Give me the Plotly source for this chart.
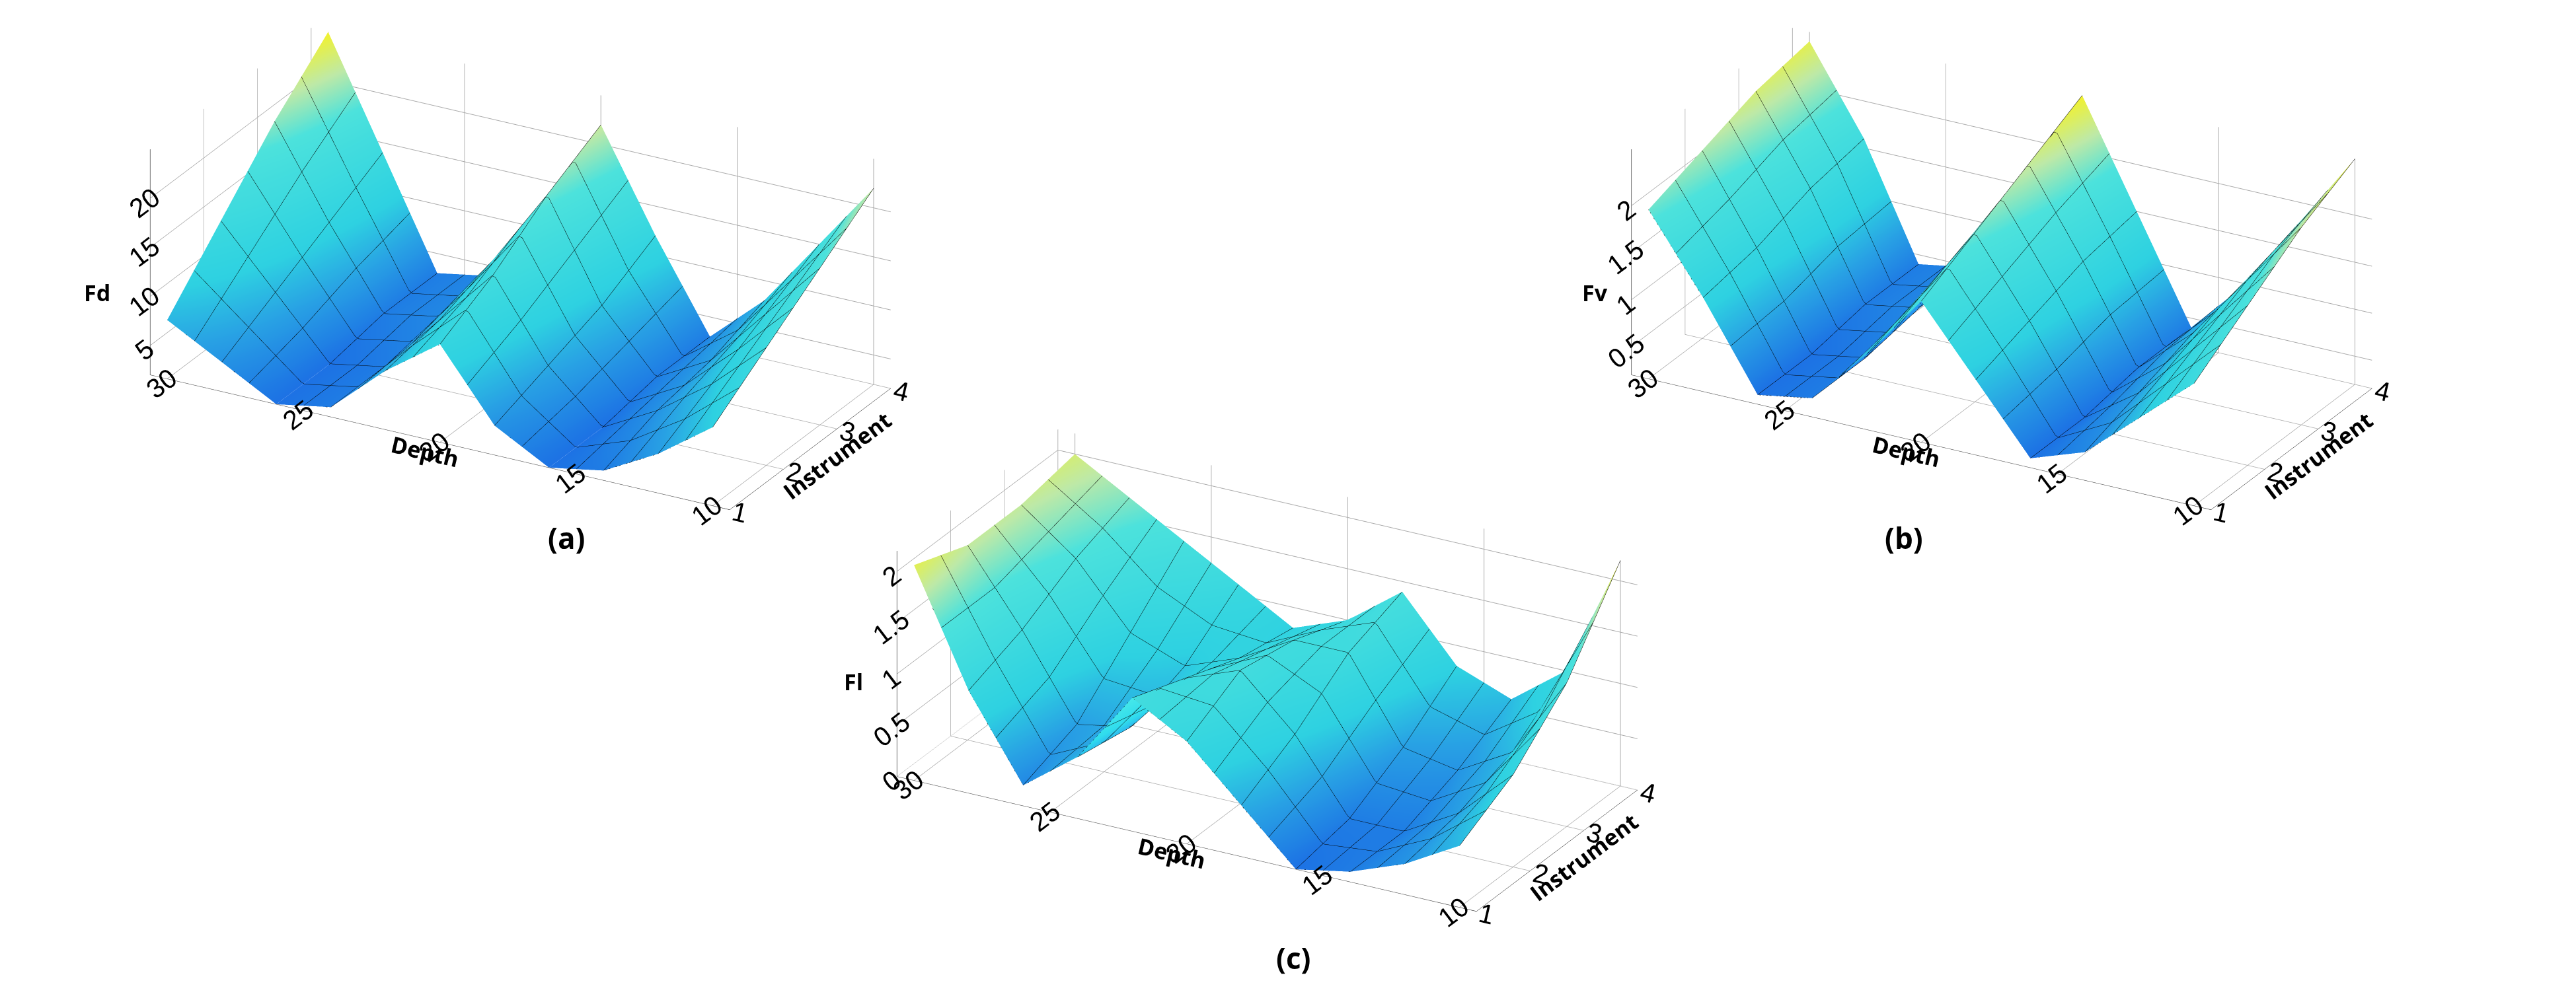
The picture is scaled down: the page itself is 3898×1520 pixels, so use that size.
import plotly.graph_objects as go

depth = [10, 12, 14, 16, 18, 20, 22, 24, 26, 28, 30]
instrument = [1, 2, 3, 4]

fd = [
    [10, 6, 3, 2, 5, 12, 8, 3, 2, 5, 8],
    [14, 9, 5, 2, 7, 15, 9, 3, 2, 8, 14],
    [18, 12, 6, 3, 9, 19, 11, 4, 3, 11, 20],
    [22, 15, 8, 3, 12, 22, 12, 4, 3, 14, 25],
]
fv = [
    [1.5, 1.0, 0.5, 0.3, 1.0, 1.7, 1.0, 0.4, 0.3, 1.2, 2.0],
    [1.9, 1.3, 0.7, 0.3, 1.2, 2.0, 1.2, 0.4, 0.3, 1.3, 2.2],
    [2.3, 1.6, 0.9, 0.4, 1.4, 2.3, 1.4, 0.5, 0.4, 1.5, 2.4],
    [2.6, 1.8, 1.0, 0.4, 1.5, 2.6, 1.5, 0.5, 0.4, 1.6, 2.5],
]
fl = [
    [0.6, 0.3, 0.1, 0.0, 0.5, 1.0, 1.3, 0.6, 0.2, 1.0, 2.1],
    [0.9, 0.4, 0.1, 0.1, 0.8, 1.3, 1.1, 0.5, 0.4, 1.2, 1.9],
    [1.4, 0.6, 0.3, 0.4, 1.2, 1.2, 0.9, 0.7, 0.9, 1.5, 1.9],
    [2.2, 1.0, 0.6, 0.8, 1.4, 1.0, 0.8, 1.1, 1.4, 1.7, 2.0],
]

cs = [[0, "#1e78f0"], [0.18, "#2aa8f0"], [0.35, "#30dced"], [0.7, "#50eee8"], [0.85, "#c8f5b0"], [1, "#ffff30"]]

fig = go.Figure()
scenes = ["scene", "scene2", "scene3"]
for s, z in zip(scenes, [fd, fv, fl]):
    fig.add_trace(go.Surface(
        x=depth, y=instrument, z=z, colorscale=cs, showscale=False, scene=s,
        lighting=dict(ambient=0.95, diffuse=0.2, specular=0.0),
        contours=dict(
            x=dict(show=True, color="black", width=2, start=10, end=30, size=1),
            y=dict(show=True, color="black", width=2, start=1, end=4, size=0.5),
        ),
    ))

tfont = dict(family="Arial", size=22, color="black")
lfont = dict(family="Open Sans", size=34, color="black")
def scene(dom_x, dom_y, zr, zt):
    ax = dict(showbackground=False, gridcolor="#aaa", showspikes=False, tickfont=tfont,
              linecolor="black", showline=True)
    return dict(
        domain=dict(x=dom_x, y=dom_y),
        xaxis=dict(ax, title=dict(text="<b>Depth</b>", font=lfont),
                   autorange="reversed", tickvals=[10, 15, 20, 25, 30]),
        yaxis=dict(ax, title=dict(text="<b>Instrument</b>", font=lfont),
                   tickvals=[1, 2, 3, 4], range=[1, 4]),
        zaxis=dict(ax, title=dict(text=""), tickvals=zt, range=zr),
        aspectmode="manual", aspectratio=dict(x=2.4, y=1.2, z=0.9),
        camera=dict(eye=dict(x=1.0, y=-1.8, z=0.9), center=dict(x=0, y=0, z=-0.05),
                    projection=dict(type="orthographic")),
    )

def ann(text, x, y, size=34):
    return dict(text="<b>%s</b>" % text, x=x, y=y, xref="paper", yref="paper", showarrow=False,
                font=dict(family="Open Sans", size=size, color="black"))

fig.update_layout(
    width=3898, height=1520, paper_bgcolor="white", margin=dict(l=0, r=0, t=0, b=0),
    scene=scene([0.0, 0.4], [0.45, 1.0], [2, 25], [5, 10, 15, 20]),
    scene2=scene([0.56, 0.99], [0.45, 1.0], [0.2, 2.6], [0.5, 1, 1.5, 2]),
    scene3=scene([0.26, 0.72], [0.05, 0.6], [0, 2.2], [0, 0.5, 1, 1.5, 2]),
    annotations=[
        ann("Fd", 0.03, 0.73), ann("Fv", 0.617, 0.73), ann("Fl", 0.325, 0.31),
        ann("(a)", 0.21, 0.47, 44), ann("(b)", 0.745, 0.47, 44), ann("(c)", 0.5, 0.03, 44),
    ],
)
fig.write_html("out.html")
